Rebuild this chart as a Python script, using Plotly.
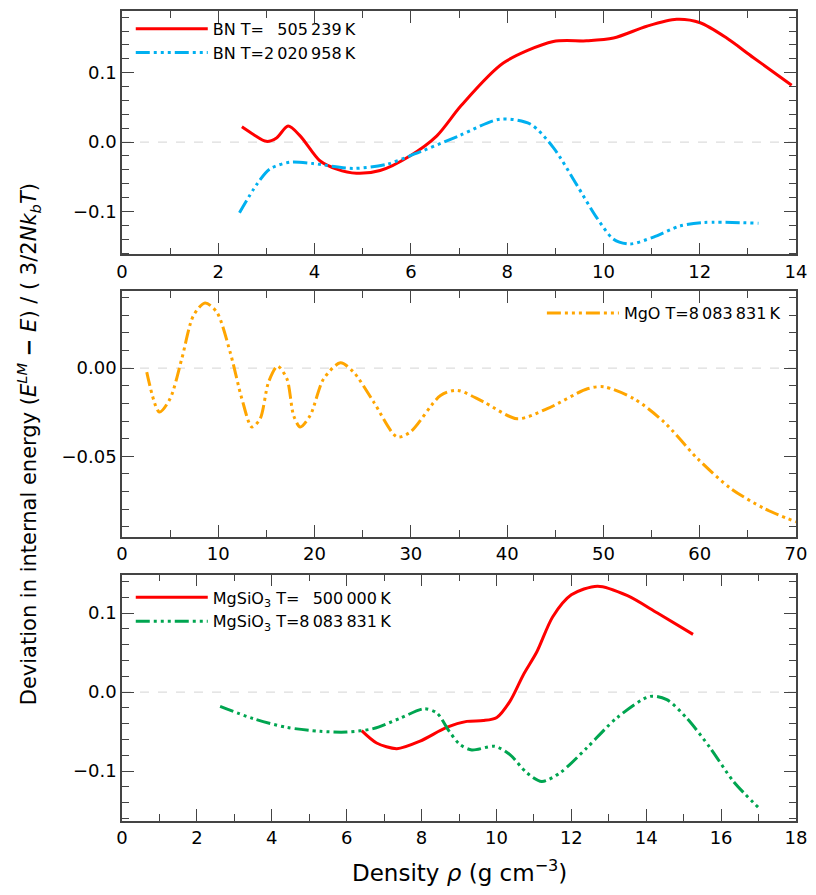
import plotly.graph_objects as go

# ---------------- data ----------------
bn_low_x = [2.49, 2.73, 3.0, 3.21, 3.45, 3.70, 4.11, 4.46, 4.87, 5.36, 5.98, 6.54, 7.05, 7.92, 8.96, 9.65, 10.21, 10.90, 11.52, 12.01, 12.56, 13.11, 13.91]
bn_low_y = [0.022, 0.011, 0.001, 0.006, 0.023, 0.009, -0.027, -0.039, -0.045, -0.041, -0.020, 0.009, 0.053, 0.114, 0.145, 0.146, 0.150, 0.167, 0.177, 0.172, 0.150, 0.122, 0.082]

bn_high_x = [2.44, 2.80, 3.07, 3.49, 3.97, 4.80, 5.50, 5.98, 7.0, 7.85, 8.48, 8.96, 9.44, 9.86, 10.21, 10.55, 11.04, 11.59, 12.08, 13.22]
bn_high_y = [-0.102, -0.061, -0.039, -0.029, -0.031, -0.038, -0.032, -0.020, 0.009, 0.033, 0.026, -0.008, -0.061, -0.109, -0.140, -0.147, -0.137, -0.121, -0.116, -0.117]

mgo_x = [2.57, 3.88, 4.99, 6.21, 7.42, 8.63, 9.85, 11.23, 12.45, 13.49, 14.35, 15.22, 16.16, 17.13, 17.82, 18.51, 19.55, 20.94, 22.68, 24.06, 26.14, 28.57, 29.96, 33.08, 34.81, 37.5, 41.05, 44.17, 48.34, 50.06, 53.18, 56.30, 59.77, 63.24, 66.70, 70.0]
mgo_y = [-0.0023, -0.0249, -0.0174, 0.0053, 0.0298, 0.037, 0.0317, 0.0091, -0.0174, -0.0334, -0.0287, -0.0079, 0.0011, -0.0061, -0.0268, -0.0334, -0.0268, -0.0061, 0.0030, -0.0023, -0.0192, -0.0390, -0.0362, -0.0155, -0.0126, -0.019, -0.0287, -0.0230, -0.0117, -0.0106, -0.0174, -0.0306, -0.0513, -0.0683, -0.0796, -0.0872]

mgsio3_low_x = [6.40, 6.80, 7.34, 7.96, 8.67, 9.21, 9.65, 10.01, 10.36, 10.72, 11.08, 11.5, 12.0, 12.7, 13.5, 14.3, 15.25]
mgsio3_low_y = [-0.0488, -0.0644, -0.0715, -0.062, -0.0446, -0.037, -0.036, -0.032, -0.0117, 0.022, 0.051, 0.095, 0.123, 0.134, 0.122, 0.100, 0.073]

mgsio3_high_x = [2.62, 3.51, 4.40, 5.29, 6.0, 6.71, 7.43, 8.07, 8.41, 8.74, 9.03, 9.34, 9.96, 10.36, 10.81, 11.21, 11.70, 12.41, 13.21, 14.10, 14.55, 15.08, 15.71, 16.33, 17.04]
mgsio3_high_y = [-0.018, -0.0336, -0.0446, -0.0496, -0.0505, -0.0462, -0.033, -0.021, -0.0265, -0.0496, -0.0665, -0.0732, -0.0686, -0.079, -0.102, -0.113, -0.102, -0.0707, -0.0328, -0.0054, -0.0096, -0.0328, -0.0707, -0.113, -0.148]

names = {
    "bn_low": "BN T=\u2007\u2009505\u2009239\u2009K",
    "bn_high": "BN T=2\u2009020\u2009958\u2009K",
    "mgo": "MgO T=8\u2009083\u2009831\u2009K",
    "mgsio3_low": "MgSiO<sub>3</sub> T=\u2007\u2009500\u2009000\u2009K",
    "mgsio3_high": "MgSiO<sub>3</sub> T=8\u2009083\u2009831\u2009K",
}

RED = "#ff0000"
CYAN = "#00b0f0"
ORANGE = "#ffa500"
GREEN = "#00a550"
DASH = "14px,4px,3px,4px,3px,4px,3px,4px"

fig = go.Figure()

def add(x, y, name, color, dash, xa, ya, legend):
    fig.add_trace(go.Scatter(
        x=x, y=y, name=name, mode="lines", xaxis=xa, yaxis=ya, legend=legend,
        line=dict(color=color, width=3, dash=dash, shape="spline", smoothing=0.8),
    ))

add(bn_low_x, bn_low_y, names["bn_low"], RED, "solid", "x", "y", "legend")
add(bn_high_x, bn_high_y, names["bn_high"], CYAN, DASH, "x", "y", "legend")
add(mgo_x, mgo_y, names["mgo"], ORANGE, DASH, "x2", "y2", "legend2")
add(mgsio3_low_x, mgsio3_low_y, names["mgsio3_low"], RED, "solid", "x3", "y3", "legend3")
add(mgsio3_high_x, mgsio3_high_y, names["mgsio3_high"], GREEN, DASH, "x3", "y3", "legend3")

AX = "#444444"
FONT = "DejaVu Sans"

def xax(rng, dtick, mdtick, anchor):
    return dict(range=rng, dtick=dtick, tick0=0, ticks="inside", ticklen=12, tickwidth=1.3,
                tickcolor=AX, showline=True, linecolor=AX, linewidth=1.5, mirror="ticks",
                showgrid=False, zeroline=False, anchor=anchor,
                tickfont=dict(size=18, color="black", family=FONT),
                minor=dict(dtick=mdtick, ticks="inside", ticklen=7, tickwidth=1, tickcolor=AX, showgrid=False))

def yax(rng, dtick, mdtick, fmt, domain, anchor):
    return dict(range=rng, dtick=dtick, tick0=0, tickformat=fmt, ticks="inside", ticklen=12, tickwidth=1.3,
                tickcolor=AX, showline=True, linecolor=AX, linewidth=1.5, mirror="ticks",
                showgrid=False, zeroline=False, domain=domain, anchor=anchor,
                tickfont=dict(size=18, color="black", family=FONT),
                minor=dict(dtick=mdtick, ticks="inside", ticklen=7, tickwidth=1, tickcolor=AX, showgrid=False))

legend_common = dict(bgcolor="rgba(0,0,0,0)", borderwidth=0, font=dict(size=16, color="black", family=FONT),
                     tracegroupgap=0, itemwidth=72)

fig.update_layout(
    width=808, height=887,
    paper_bgcolor="white", plot_bgcolor="white",
    margin=dict(l=114, r=20, t=1, b=74),
    font=dict(family=FONT, color="black"),
    xaxis=xax([0, 14], 2, 1, "y"),
    yaxis=yax([-0.162, 0.189], 0.1, 0.02, ".1f", [0.6995, 1.0], "x"),
    xaxis2=xax([0, 70], 10, 5, "y2"),
    yaxis2=yax([-0.0956, 0.0436], 0.05, 0.01, ".2f", [0.351, 0.654], "x2"),
    xaxis3=xax([0, 18], 2, 1, "y3"),
    yaxis3=yax([-0.163, 0.1486], 0.1, 0.02, ".1f", [0.0, 0.3042], "x3"),
    legend=dict(x=0.013, y=0.999, xanchor="left", yanchor="top", **legend_common),
    legend2=dict(x=0.985, y=0.648, xanchor="right", yanchor="top", **legend_common),
    legend3=dict(x=0.013, y=0.297, xanchor="left", yanchor="top", **legend_common),
    showlegend=True,
)

for xr, yr in [("x", "y"), ("x2", "y2"), ("x3", "y3")]:
    fig.add_shape(type="line", xref=f"{xr} domain", x0=0, x1=1, yref=yr, y0=0, y1=0,
                  line=dict(color="#dddddd", width=1.2, dash="dash"), layer="below")

fig.add_annotation(
    text="Deviation in internal energy (<i>E</i><sup><i>LM</i></sup> <b>−</b> <i>E</i>) / ( 3/2<i>Nk</i><sub><i>b</i></sub><i>T</i>)",
    xref="paper", yref="paper", x=-0.139, y=0.4655, xanchor="center", yanchor="middle",
    textangle=-90, showarrow=False, font=dict(size=21, color="black", family=FONT))

fig.add_annotation(
    text="Density <i>ρ</i> (g cm<sup>−3</sup>)",
    xref="paper", yref="paper", x=0.5, y=-0.0616, xanchor="center", yanchor="middle",
    showarrow=False, font=dict(size=23, color="black", family=FONT))

fig.write_html("out.html")
